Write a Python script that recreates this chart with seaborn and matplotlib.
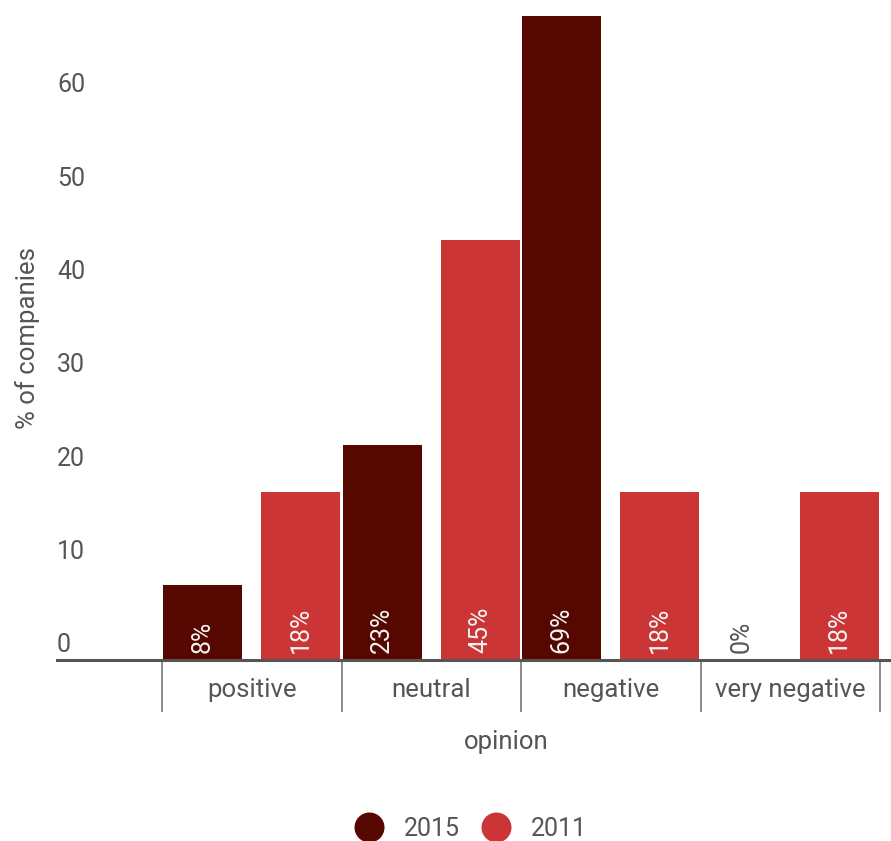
import matplotlib
matplotlib.use("Agg")
import matplotlib.pyplot as plt
import matplotlib.transforms as mtransforms
from matplotlib.lines import Line2D
import seaborn as sns
import pandas as pd

# ---- data ----
opinions = ["positive", "neutral", "negative", "very negative"]
years = ["2015", "2011"]
values_2015 = [8, 23, 69, 0]
values_2011 = [18, 45, 18, 18]
colors = ["#560700", "#cc3535"]
y_ticks = [0, 10, 20, 30, 40, 50, 60]

df = pd.DataFrame({
    "opinion": opinions * 2,
    "year": [years[0]] * 4 + [years[1]] * 4,
    "value": values_2015 + values_2011,
})

plt.rcParams["font.family"] = ["Roboto", "DejaVu Sans"]
TXT = "#555555"

fig = plt.figure(figsize=(8.91, 8.41), dpi=100)
ax = fig.add_axes([57 / 891, 181 / 841, 834 / 891, 660 / 841])

sns.barplot(data=df, x="opinion", y="value", hue="year", order=opinions,
            hue_order=years, palette=colors, width=1.09, gap=0.19,
            linewidth=0, saturation=1, legend=False, ax=ax, errorbar=None)

ax.set_xlim(-1.085, 3.561)
ax.set_ylim(0, 70.7)

# spines
for s in ["left", "right", "top"]:
    ax.spines[s].set_visible(False)
ax.spines["bottom"].set_color(TXT)
ax.spines["bottom"].set_linewidth(2.2)
ax.spines["bottom"].set_zorder(5)

# x ticks
ax.set_xticks(range(len(opinions)))
ax.set_xticklabels(opinions)
ax.set_xticks([i - 0.5 for i in range(len(opinions) + 1)], minor=True)
ax.tick_params(axis="x", which="major", length=0, pad=13, labelsize=18.5,
               labelcolor=TXT)
ax.tick_params(axis="x", which="minor", length=37.5, width=1.4,
               color="#8a8a8a")

# y ticks (labels sit above the value, left aligned inside plot)
ax.set_yticks(y_ticks)
ax.set_yticklabels([str(t) for t in y_ticks])
ax.tick_params(axis="y", length=0, pad=0, labelsize=18, labelcolor=TXT)
offset = mtransforms.ScaledTranslation(0, 17 / 100, fig.dpi_scale_trans)
for lab in ax.get_yticklabels():
    lab.set_horizontalalignment("left")
    lab.set_transform(lab.get_transform() + offset)

ax.set_xlabel("opinion", fontsize=18.5, color=TXT)
ax.xaxis.set_label_coords((506 - 57) / 834, -0.106)
ax.set_ylabel("% of companies", fontsize=18.5, color=TXT)
ax.yaxis.set_label_coords(-17 / 834, (660 - 338) / 660)

# bar value labels
all_vals = [values_2015, values_2011]
for cont, vals in zip(ax.containers, all_vals):
    for patch, v in zip(cont.patches, vals):
        cx = patch.get_x() + patch.get_width() / 2
        ax.annotate(f"{v}%", xy=(cx, 0), xytext=(0, 5), textcoords="offset points",
                    rotation=90, ha="center", va="bottom", fontsize=18,
                    color="#f4f4f4" if v > 0 else TXT, zorder=6)

# legend
handles = [Line2D([], [], marker="o", linestyle="none", markersize=21.6,
                  markerfacecolor=c, markeredgewidth=0) for c in colors]
fig.legend(handles, years, loc="center", bbox_to_anchor=(468.5 / 891, 12 / 841),
           ncol=2, frameon=False, fontsize=18, labelcolor=TXT,
           handlelength=1.5, handletextpad=0.66, columnspacing=0.68,
           borderpad=0, borderaxespad=0)

fig.savefig("out.png", dpi=100)
